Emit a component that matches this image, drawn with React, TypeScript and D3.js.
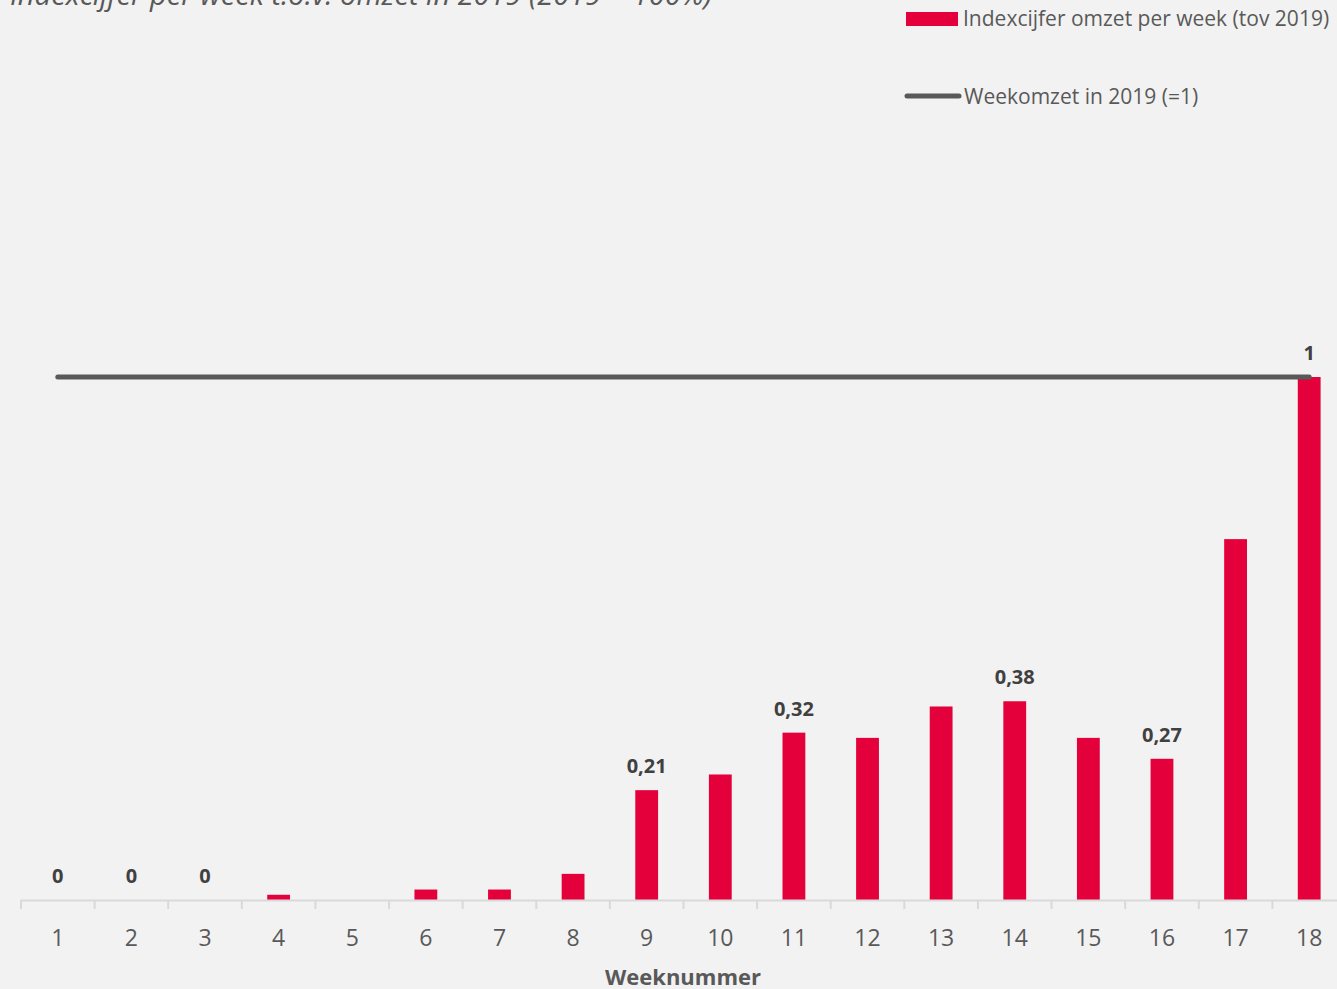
import React, { useEffect, useRef } from "react";
import * as d3 from "d3";

const weeks = ["1","2","3","4","5","6","7","8","9","10","11","12","13","14","15","16","17","18"];
const indexValues = [0, 0, 0, 0.01, 0, 0.02, 0.02, 0.05, 0.21, 0.24, 0.32, 0.31, 0.37, 0.38, 0.31, 0.27, 0.69, 1];
const labelledWeeks = ["1", "2", "3", "9", "11", "14", "16", "18"];
const baselineValue = 1;
const titleText = "Indexcijfer per week t.o.v. omzet in 2019 (2019 = 100%)";
const barLegend = "Indexcijfer omzet per week (tov 2019)";
const lineLegend = "Weekomzet in 2019 (=1)";
const xTitle = "Weeknummer";

const W = 1337, H = 989;
const FONT = "'Open Sans', 'DejaVu Sans', sans-serif";

export default function App() {
  const ref = useRef<SVGSVGElement>(null);
  useEffect(() => {
    document.body.style.margin = "0";
    const svg = d3.select(ref.current);
    svg.selectAll("*").remove();
    svg.append("rect").attr("width", W).attr("height", H).attr("fill", "#f2f2f2");

    const x = d3.scaleBand<string>().domain(weeks).range([21, 1346]).paddingInner(0.69).paddingOuter(0.345);
    const y = d3.scaleLinear().domain([0, 1]).range([900, 377]);

    // title (cut off at top as in the reference)
    svg.append("text").attr("x", 10).attr("y", 5).attr("font-family", FONT).attr("font-style", "italic")
      .attr("font-size", 29).attr("fill", "#595959").text(titleText);

    // bars
    svg.append("g").selectAll("rect").data(weeks).join("rect")
      .attr("x", d => x(d)!)
      .attr("width", x.bandwidth())
      .attr("y", (d, i) => y(indexValues[i]))
      .attr("height", (d, i) => y(0) - y(indexValues[i]))
      .attr("fill", "#e4003a");

    // axis
    const step = x.step();
    const axisG = svg.append("g");
    axisG.append("line").attr("x1", 21).attr("x2", W).attr("y1", 900.5).attr("y2", 900.5)
      .attr("stroke", "#d9d9d9").attr("stroke-width", 2);
    const tickXs = d3.range(weeks.length + 1).map(i => 21 + i * step);
    axisG.selectAll("line.tick").data(tickXs).join("line").attr("class", "tick")
      .attr("x1", d => d).attr("x2", d => d).attr("y1", 900).attr("y2", 909)
      .attr("stroke", "#d9d9d9").attr("stroke-width", 2);
    axisG.selectAll("text").data(weeks).join("text")
      .attr("x", d => x(d)! + x.bandwidth() / 2).attr("y", 946)
      .attr("text-anchor", "middle").attr("font-family", FONT).attr("font-size", 23).attr("fill", "#595959")
      .text(d => d);

    // baseline line
    const lineData = weeks.map(w => ({ w, v: baselineValue }));
    const line = d3.line<{ w: string; v: number }>().x(d => x(d.w)! + x.bandwidth() / 2).y(d => y(d.v));
    svg.append("path").attr("d", line(lineData)!).attr("fill", "none").attr("stroke", "#595959")
      .attr("stroke-width", 5).attr("stroke-linecap", "round");

    // data labels
    svg.append("g").selectAll("text").data(weeks.filter(w => labelledWeeks.includes(w))).join("text")
      .attr("x", d => x(d)! + x.bandwidth() / 2)
      .attr("y", d => y(indexValues[weeks.indexOf(d)]) - 17)
      .attr("text-anchor", "middle").attr("font-family", FONT).attr("font-weight", "bold")
      .attr("font-size", 20).attr("fill", "#404040")
      .text(d => d3.format(".2~f")(indexValues[weeks.indexOf(d)]).replace(".", ","));

    // x title
    svg.append("text").attr("x", 683).attr("y", 985).attr("text-anchor", "middle")
      .attr("font-family", FONT).attr("font-weight", "bold").attr("font-size", 22).attr("fill", "#595959")
      .text(xTitle);

    // legend
    const lg = svg.append("g");
    lg.append("rect").attr("x", 906).attr("y", 12).attr("width", 52).attr("height", 14).attr("fill", "#e4003a");
    lg.append("text").attr("x", 963).attr("y", 26).attr("font-family", FONT).attr("font-size", 21)
      .attr("fill", "#595959").text(barLegend);
    lg.append("line").attr("x1", 907).attr("x2", 959).attr("y1", 96).attr("y2", 96)
      .attr("stroke", "#595959").attr("stroke-width", 5).attr("stroke-linecap", "round");
    lg.append("text").attr("x", 964).attr("y", 104).attr("font-family", FONT).attr("font-size", 21)
      .attr("fill", "#595959").text(lineLegend);
  }, []);
  return <svg ref={ref} width={W} height={H} style={{ display: "block" }} />;
}
